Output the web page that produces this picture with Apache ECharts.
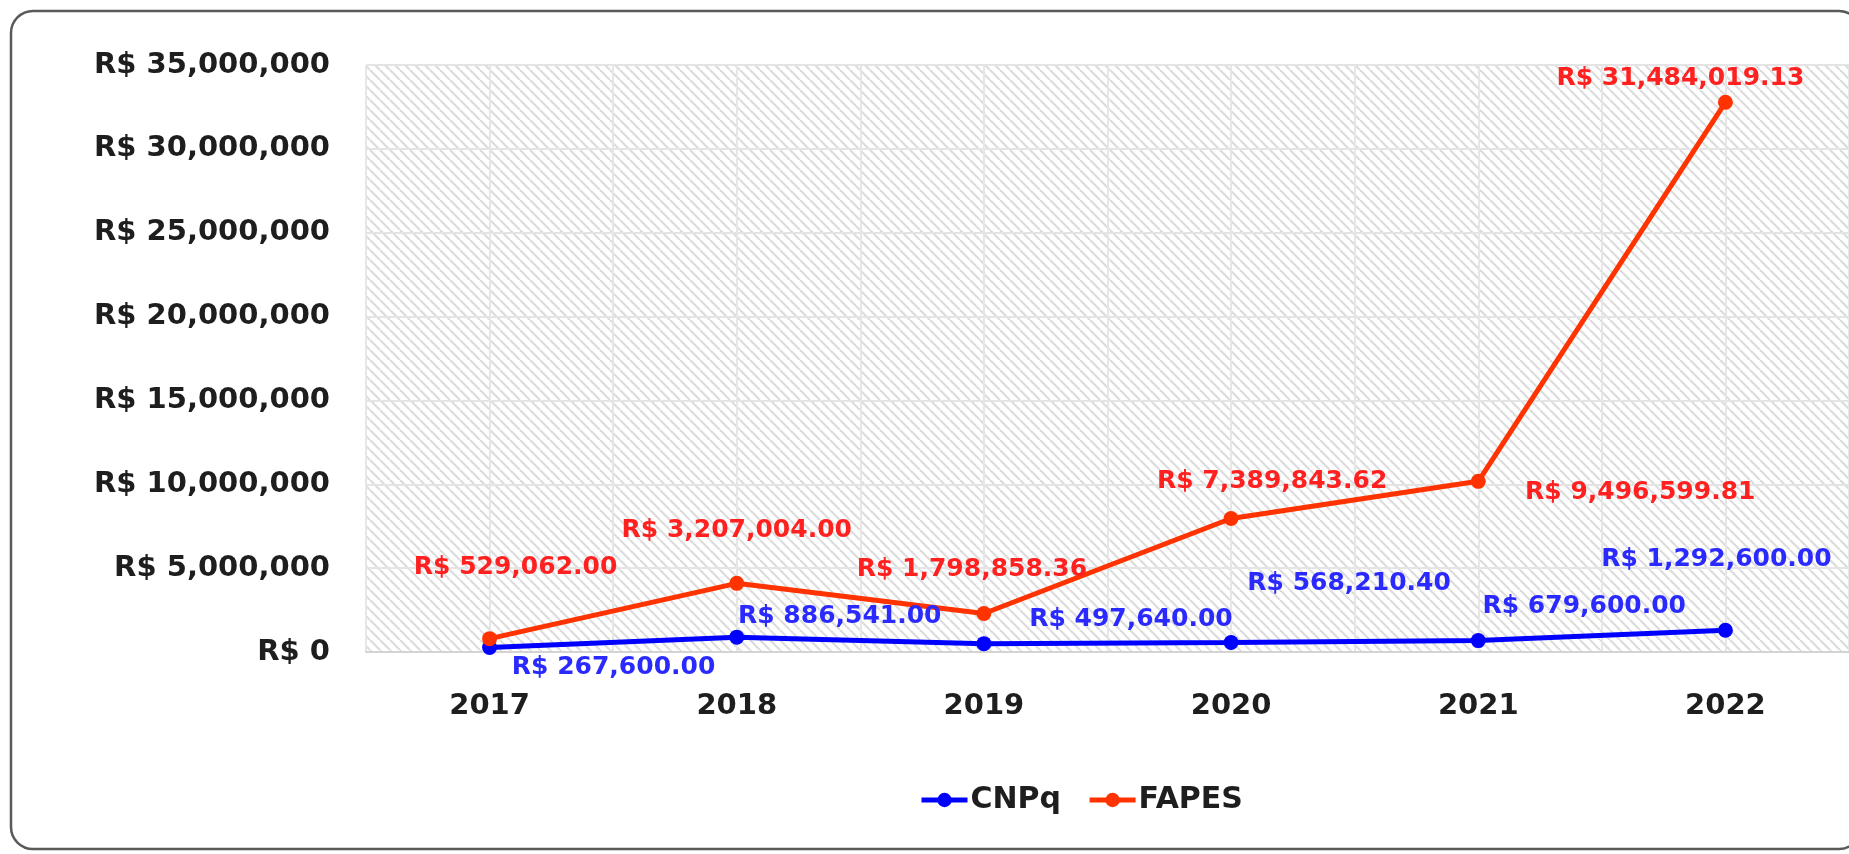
<!DOCTYPE html>
<html>
<head>
<meta charset="utf-8">
<script src="https://cdn.jsdelivr.net/npm/echarts@6/dist/echarts.min.js"></script>
<style>
    html, body {margin: 0; padding: 0; background: #fff;}
    #chart {width: 1849px; height: 854px;}
</style>
</head>
<body>
<div id="chart"></div>
<script>
// anos
const years = ['2017', '2018', '2019', '2020', '2021', '2022'];
// valores (R$)
const cnpq = [267600.00, 886541.00, 497640.00, 568210.40, 679600.00, 1292600.00];
const fapes = [529062.00, 3207004.00, 1798858.36, 7389843.62, 9496599.81, 31484019.13];
const yTicks = {min: 0, max: 35000000, interval: 5000000};

// posicao dos rotulos (ajuste manual, como no excel)
const cnpqLabelOffset = [[124, 20], [103, -21], [147, -24], [118, -59], [106, -34], [-9, -71]];
const fapesLabelOffset = [[26, -71], [0, -53], [-12, -44], [41, -37], [162, 11], [-45, -24]];

const FONT = 'DejaVu Sans';

function hatch() {
    let c = document.createElement('canvas');
    let p = 10;
    c.width = p;
    c.height = p;
    let ctx = c.getContext('2d');
    ctx.fillStyle = '#ffffff';
    ctx.fillRect(0, 0, p, p);
    ctx.strokeStyle = '#dcdcdc';
    ctx.lineWidth = 2.2;
    [-p, 0, p].forEach(function (d) {
        ctx.beginPath();
        ctx.moveTo(d, 0);
        ctx.lineTo(d + p, p);
        ctx.stroke();
    });
    return c;
}

function money(v) {
    return 'R$ ' + v.toLocaleString('en-US', {minimumFractionDigits: 2, maximumFractionDigits: 2});
}

function withOffsets(values, offsets) {
    return values.map(function (v, i) {
        return {value: v, label: {offset: offsets[i]}};
    });
}

let chart = echarts.init(document.getElementById('chart'));
let option = {
    backgroundColor: '#ffffff',
    animation: false,
    textStyle: {fontFamily: FONT},
    graphic: [{
        type: 'rect',
        shape: {x: 11, y: 11, width: 1850, height: 838, r: 22},
        style: {fill: 'none', stroke: '#5a5a5a', lineWidth: 2.5},
        z: 100
    }],
    grid: {
        left: 366, top: 65, right: -2, bottom: 202,
        show: true,
        borderWidth: 0,
        backgroundColor: {image: hatch(), repeat: 'repeat'}
    },
    legend: {
        left: 914, top: 780,
        itemWidth: 46, itemHeight: 18, itemGap: 26,
        lineStyle: {width: 5},
        textStyle: {fontFamily: FONT, fontSize: 30, fontWeight: 'bold', color: '#1e1e1e', padding: [0, 0, 0, -2]},
        data: ['CNPq', 'FAPES']
    },
    xAxis: [{
        type: 'category',
        data: years,
        boundaryGap: true,
        axisLine: {lineStyle: {color: '#d4d4d4', width: 2}},
        axisTick: {show: false},
        axisLabel: {fontFamily: FONT, fontSize: 29, fontWeight: 'bold', color: '#1e1e1e', margin: 40},
        splitLine: {show: false}
    }, {
        // linhas verticais a cada meio ano
        type: 'category',
        data: ['', '', '', '', '', '', '', '', '', '', '', ''],
        boundaryGap: true,
        position: 'bottom',
        axisLine: {show: false},
        axisTick: {show: false},
        axisLabel: {show: false},
        splitLine: {show: true, lineStyle: {color: '#e6e6e6', width: 2}}
    }],
    yAxis: {
        type: 'value',
        min: yTicks.min, max: yTicks.max, interval: yTicks.interval,
        axisLine: {show: false},
        axisTick: {show: false},
        axisLabel: {
            fontFamily: FONT, fontSize: 29, fontWeight: 'bold', color: '#1e1e1e', margin: 36,
            formatter: function (v) {
                return 'R$ ' + v.toLocaleString('en-US');
            }
        },
        splitLine: {lineStyle: {color: '#e4e4e4', width: 2}}
    },
    series: [{
        name: 'CNPq',
        type: 'line',
        stack: 'total',
        data: withOffsets(cnpq, cnpqLabelOffset),
        color: '#0000ff',
        symbol: 'circle',
        symbolSize: 15,
        lineStyle: {width: 5, color: '#0000ff'},
        label: {
            show: true, position: 'inside',
            fontFamily: FONT, fontSize: 25, fontWeight: 'bold', color: '#2a2aff',
            formatter: function (p) { return money(p.value); }
        }
    }, {
        name: 'FAPES',
        type: 'line',
        stack: 'total',
        data: withOffsets(fapes, fapesLabelOffset),
        color: '#ff3300',
        symbol: 'circle',
        symbolSize: 15,
        lineStyle: {width: 5, color: '#ff3300'},
        label: {
            show: true, position: 'inside',
            fontFamily: FONT, fontSize: 25, fontWeight: 'bold', color: '#ff2020',
            formatter: function (p) { return money(p.value); }
        }
    }]
};
chart.setOption(option);
</script>
</body>
</html>
